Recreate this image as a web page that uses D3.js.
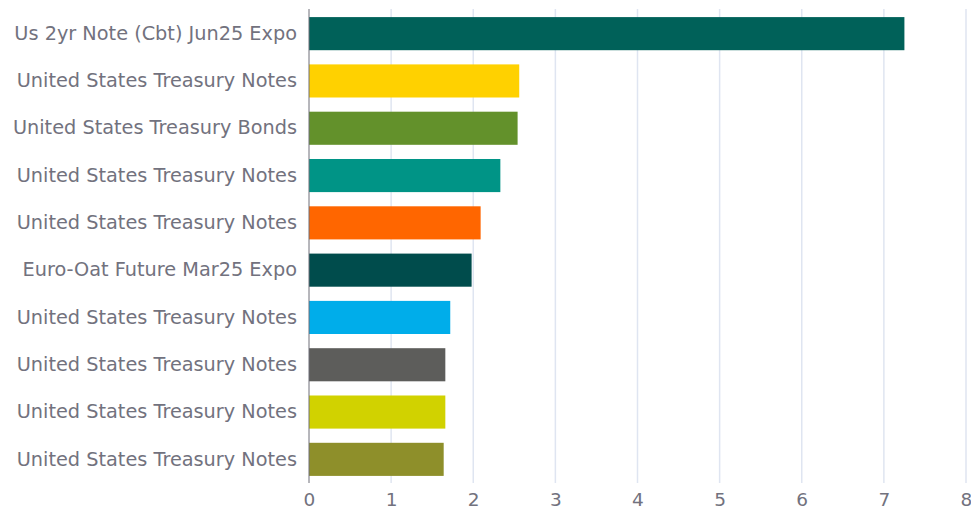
<!DOCTYPE html>
<html>
<head>
<meta charset="utf-8">
<script src="https://cdn.jsdelivr.net/npm/d3@7"></script>
<style>
  body { margin: 0; background: #fff; }
  svg { display: block; font-family: "DejaVu Sans", sans-serif; }
</style>
</head>
<body>
<svg width="971" height="510"></svg>
<script>
const names = [
	"Us 2yr Note (Cbt) Jun25 Expo",
	"United States Treasury Notes",
	"United States Treasury Bonds",
	"United States Treasury Notes",
	"United States Treasury Notes",
	"Euro-Oat Future Mar25 Expo",
	"United States Treasury Notes",
	"United States Treasury Notes",
	"United States Treasury Notes",
	"United States Treasury Notes"
];
const values = [7.25, 2.56, 2.54, 2.33, 2.09, 1.98, 1.72, 1.66, 1.66, 1.64];
const colors = ["#006159", "#ffd100", "#63912b", "#009486", "#ff6600",
	"#004c4c", "#00adea", "#5d5d5b", "#d1d200", "#8e8f2a"];
const xTicks = [0, 1, 2, 3, 4, 5, 6, 7, 8];

const margin = {top: 10, right: 5, bottom: 27, left: 309};
const width = 971, height = 510;
const svg = d3.select("svg");

const ids = names.map((n, i) => i);
const x = d3.scaleLinear().domain([0, 8]).range([margin.left, width - margin.right]);
const y = d3.scaleBand().domain(ids).range([margin.top, height - margin.bottom]).paddingInner(0.3).paddingOuter(0.15);

// grid
svg.append("g")
	.selectAll("line")
	.data(xTicks.slice(1))
	.join("line")
	.attr("x1", d => x(d)).attr("x2", d => x(d))
	.attr("y1", margin.top - 1).attr("y2", height - margin.bottom)
	.attr("stroke", "#dfe5f1")
	.attr("stroke-width", 1.5);

// bars
svg.append("g")
	.selectAll("rect")
	.data(values)
	.join("rect")
	.attr("x", x(0))
	.attr("y", (d, i) => y(i))
	.attr("width", d => x(d) - x(0))
	.attr("height", y.bandwidth())
	.attr("fill", (d, i) => colors[i]);

// x axis
const xAxis = svg.append("g")
	.attr("transform", `translate(0,${height - margin.bottom})`)
	.call(d3.axisBottom(x).tickValues(xTicks).tickSize(0).tickPadding(10));
xAxis.select(".domain").remove();
xAxis.selectAll("text").attr("fill", "#72727e").attr("font-size", 18.5).attr("font-family", "DejaVu Sans");

// y axis
const yAxis = svg.append("g")
	.attr("transform", `translate(${margin.left},0)`)
	.call(d3.axisLeft(y).tickFormat(i => names[i]).tickSize(0).tickPadding(12));
yAxis.select(".domain")
	.attr("d", `M0,${margin.top - 1}V${height - margin.bottom}`)
	.attr("stroke", "#6e6e78");
yAxis.selectAll("text").attr("fill", "#72727e").attr("font-size", 19.3).attr("font-family", "DejaVu Sans");
</script>
</body>
</html>
